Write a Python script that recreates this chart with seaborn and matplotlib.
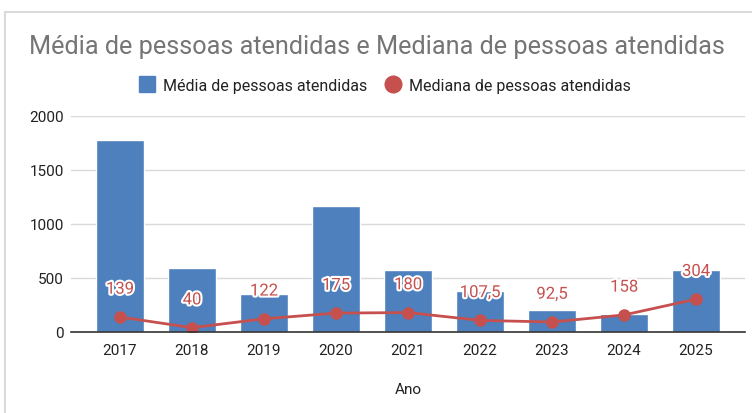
import matplotlib
matplotlib.use("Agg")
import matplotlib.pyplot as plt
import matplotlib.patheffects as pe
from matplotlib.lines import Line2D
import seaborn as sns
import pandas as pd

anos = ["2017", "2018", "2019", "2020", "2021", "2022", "2023", "2024", "2025"]
media = [1775, 595, 355, 1170, 570, 380, 205, 170, 570]
mediana = [139, 40, 122, 175, 180, 107.5, 92.5, 158, 304]
rotulos = ["139", "40", "122", "175", "180", "107,5", "92,5", "158", "304"]
yticks = [0, 500, 1000, 1500, 2000]

BLUE = "#4e80bd"
RED = "#c5504e"

sns.set_theme(style="white")
plt.rcParams["font.family"] = ["Roboto", "DejaVu Sans"]

df = pd.DataFrame({"Ano": anos, "Media": media, "Mediana": mediana})

fig = plt.figure(figsize=(7.52, 4.14), dpi=100)
ax = fig.add_axes([71 / 752, 1 - 333 / 414, (745 - 71) / 752, (333 - 117) / 414])

sns.barplot(data=df, x="Ano", y="Media", color=BLUE, saturation=1, width=0.67, ax=ax, zorder=2)
sns.pointplot(data=df, x="Ano", y="Mediana", color=RED, markersize=7.5, linewidth=2, ax=ax, zorder=4)

for i, (v, lab) in enumerate(zip(mediana, rotulos)):
    ax.annotate(lab, (i, v), xytext=(0, 20), textcoords="offset points", ha="center", va="center",
                color=RED, fontsize=12, zorder=5,
                path_effects=[pe.withStroke(linewidth=3, foreground="white")])

ax.set_ylim(0, 2000)
ax.set_xlim(-0.68, 8.68)
ax.set_yticks(yticks)
ax.yaxis.grid(True, color="#d9d9d9", linewidth=1)
ax.set_axisbelow(True)
for s in ["top", "right", "left"]:
    ax.spines[s].set_visible(False)
ax.spines["bottom"].set_color("#333333")
ax.spines["bottom"].set_linewidth(1.2)
ax.spines["bottom"].set_zorder(6)
ax.tick_params(axis="both", length=0, labelsize=11, colors="#222222")
ax.tick_params(axis="x", pad=8)
ax.tick_params(axis="y", pad=5)
ax.set_ylabel("")
ax.set_xlabel("Ano", fontsize=11, color="#222222", labelpad=18)

fig.text(377 / 752, 1 - 47 / 414, "Média de pessoas atendidas e Mediana de pessoas atendidas",
         ha="center", va="center", fontsize=18.2, color="#757575")

handles = [Line2D([], [], marker="s", linestyle="", markersize=12, color=BLUE),
           Line2D([], [], marker="o", linestyle="", markersize=12, color=RED)]
fig.legend(handles, ["Média de pessoas atendidas", "Mediana de pessoas atendidas"],
           loc="center", bbox_to_anchor=(385 / 752, 1 - 86 / 414), ncol=2, frameon=False,
           fontsize=11.5, handletextpad=0.5, columnspacing=1.1, handlelength=1.0,
           labelcolor="#222222")

fig.add_artist(Line2D([5 / 752, 5 / 752], [0, 1 - 13 / 414], color="#dadada", linewidth=1.5,
                      transform=fig.transFigure))
fig.add_artist(Line2D([5 / 752, 1], [1 - 13 / 414, 1 - 13 / 414], color="#dadada", linewidth=1.5,
                      transform=fig.transFigure))

fig.savefig("out.png", dpi=100, facecolor="white")
